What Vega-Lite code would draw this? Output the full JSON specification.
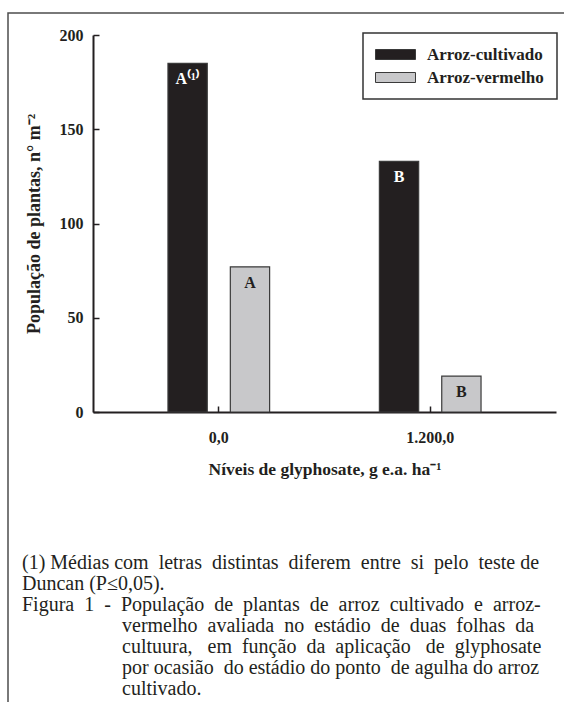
{
  "$schema": "https://vega.github.io/schema/vega-lite/v6.json",
  "width": 560,
  "height": 695,
  "padding": {"left": 8, "top": 13, "right": 0, "bottom": 0},
  "autosize": {"type": "none"},
  "background": "white",
  "title": {
    "text": [
      "(1) Médias com\u00a0 letras\u00a0 distintas\u00a0 diferem\u00a0 entre\u00a0 si\u00a0 pelo\u00a0 teste de",
      "Duncan (P≤0,05).",
      "Figura\u00a0 1\u00a0 -\u00a0 População\u00a0 de\u00a0 plantas\u00a0 de\u00a0 arroz\u00a0 cultivado\u00a0 e\u00a0 arroz-",
      "\u200b\u00a0\u00a0\u00a0\u00a0\u00a0\u00a0\u00a0\u00a0\u00a0\u00a0\u00a0\u00a0\u00a0\u00a0\u00a0\u00a0\u00a0\u00a0\u00a0\u00a0vermelho\u00a0 avaliada\u00a0 no\u00a0 estádio\u00a0 de\u00a0 duas\u00a0 folhas\u00a0 da",
      "\u200b\u00a0\u00a0\u00a0\u00a0\u00a0\u00a0\u00a0\u00a0\u00a0\u00a0\u00a0\u00a0\u00a0\u00a0\u00a0\u00a0\u00a0\u00a0\u00a0\u00a0cultuura,\u00a0\u00a0 em\u00a0 função\u00a0 da\u00a0 aplicação\u00a0\u00a0 de\u00a0 glyphosate",
      "\u200b\u00a0\u00a0\u00a0\u00a0\u00a0\u00a0\u00a0\u00a0\u00a0\u00a0\u00a0\u00a0\u00a0\u00a0\u00a0\u00a0\u00a0\u00a0\u00a0\u00a0por ocasião\u00a0 do estádio do ponto\u00a0 de agulha do arroz",
      "\u200b\u00a0\u00a0\u00a0\u00a0\u00a0\u00a0\u00a0\u00a0\u00a0\u00a0\u00a0\u00a0\u00a0\u00a0\u00a0\u00a0\u00a0\u00a0\u00a0\u00a0cultivado."
    ],
    "orient": "bottom",
    "anchor": "start",
    "frame": "group",
    "offset": -155,
    "dx": 14,
    "font": "Liberation Serif, Times New Roman, serif",
    "fontSize": 20,
    "fontWeight": 400,
    "color": "#231f20",
    "lineHeight": 21
  },
  "data": {
    "values": [
      {"dose": "0,0", "tipo": "Arroz-cultivado", "valor": 185, "letra": "A⁽¹⁾"},
      {"dose": "0,0", "tipo": "Arroz-vermelho", "valor": 77, "letra": "A"},
      {"dose": "1.200,0", "tipo": "Arroz-cultivado", "valor": 133, "letra": "B"},
      {"dose": "1.200,0", "tipo": "Arroz-vermelho", "valor": 19, "letra": "B"}
    ]
  },
  "encoding": {
    "x": {
      "field": "dose",
      "type": "nominal",
      "sort": ["0,0", "1.200,0"],
      "scale": {"range": [85, 548], "paddingInner": 0, "paddingOuter": 0.095},
      "axis": {
        "title": "Níveis de glyphosate, g e.a. ha⁻¹",
        "labelAngle": 0,
        "offset": -296,
        "tickSize": -6,
        "labelPadding": 23,
        "titlePadding": 15
      }
    },
    "xOffset": {
      "field": "tipo",
      "type": "nominal",
      "sort": ["Arroz-cultivado", "Arroz-vermelho"],
      "scale": {"paddingInner": 0.37, "paddingOuter": 0.88}
    },
    "y": {
      "field": "valor",
      "type": "quantitative",
      "scale": {"domain": [0, 200], "range": [399, 22], "nice": false},
      "axis": {
        "title": "População de plantas, n° m⁻²",
        "titleFontSize": 18,
        "values": [0, 50, 100, 150, 200],
        "offset": -85,
        "tickSize": -6,
        "labelPadding": 16,
        "titlePadding": 16
      }
    }
  },
  "layer": [
    {
      "mark": {"type": "bar", "stroke": "#3a3a3a", "strokeWidth": 1.2},
      "encoding": {
        "color": {
          "field": "tipo",
          "type": "nominal",
          "sort": ["Arroz-cultivado", "Arroz-vermelho"],
          "scale": {"domain": ["Arroz-cultivado", "Arroz-vermelho"], "range": ["#231f20", "#c8c8ca"]},
          "legend": {
            "title": null,
            "orient": "none",
            "legendX": 355,
            "legendY": 20,
            "symbolType": "M-1.8,-1H6.2V1H-1.8Z",
            "symbolSize": 100,
            "symbolStrokeColor": "#3a3a3a",
            "symbolStrokeWidth": 1,
            "symbolOpacity": 1,
            "labelFont": "Liberation Serif",
            "labelFontSize": 17,
            "labelFontWeight": "bold",
            "labelColor": "#231f20",
            "labelOffset": 34,
            "padding": 13,
            "rowPadding": 5,
            "strokeColor": "#333333",
            "fillColor": "white"
          }
        }
      }
    },
    {
      "mark": {"type": "text", "baseline": "top", "dy": 8, "font": "Liberation Serif", "fontSize": 16, "fontWeight": "bold"},
      "encoding": {
        "text": {"field": "letra"},
        "color": {"condition": {"test": "datum.tipo === 'Arroz-cultivado'", "value": "white"}, "value": "#231f20"}
      }
    }
  ],
  "config": {
    "view": {"stroke": "#4d4d4d", "strokeWidth": 1.5},
    "font": "Liberation Serif",
    "title": {"font": "Liberation Serif, Times New Roman, serif", "fontWeight": 400},
    "axis": {
      "grid": false,
      "labelFont": "Liberation Serif",
      "labelFontSize": 16,
      "labelFontWeight": "bold",
      "labelColor": "#231f20",
      "titleFont": "Liberation Serif",
      "titleFontSize": 17.5,
      "titleFontWeight": "bold",
      "titleColor": "#231f20",
      "domainColor": "#231f20",
      "domainWidth": 2,
      "tickColor": "#231f20",
      "tickWidth": 1.5
    },
    "legend": {"strokeWidth": 1.5}
  }
}
